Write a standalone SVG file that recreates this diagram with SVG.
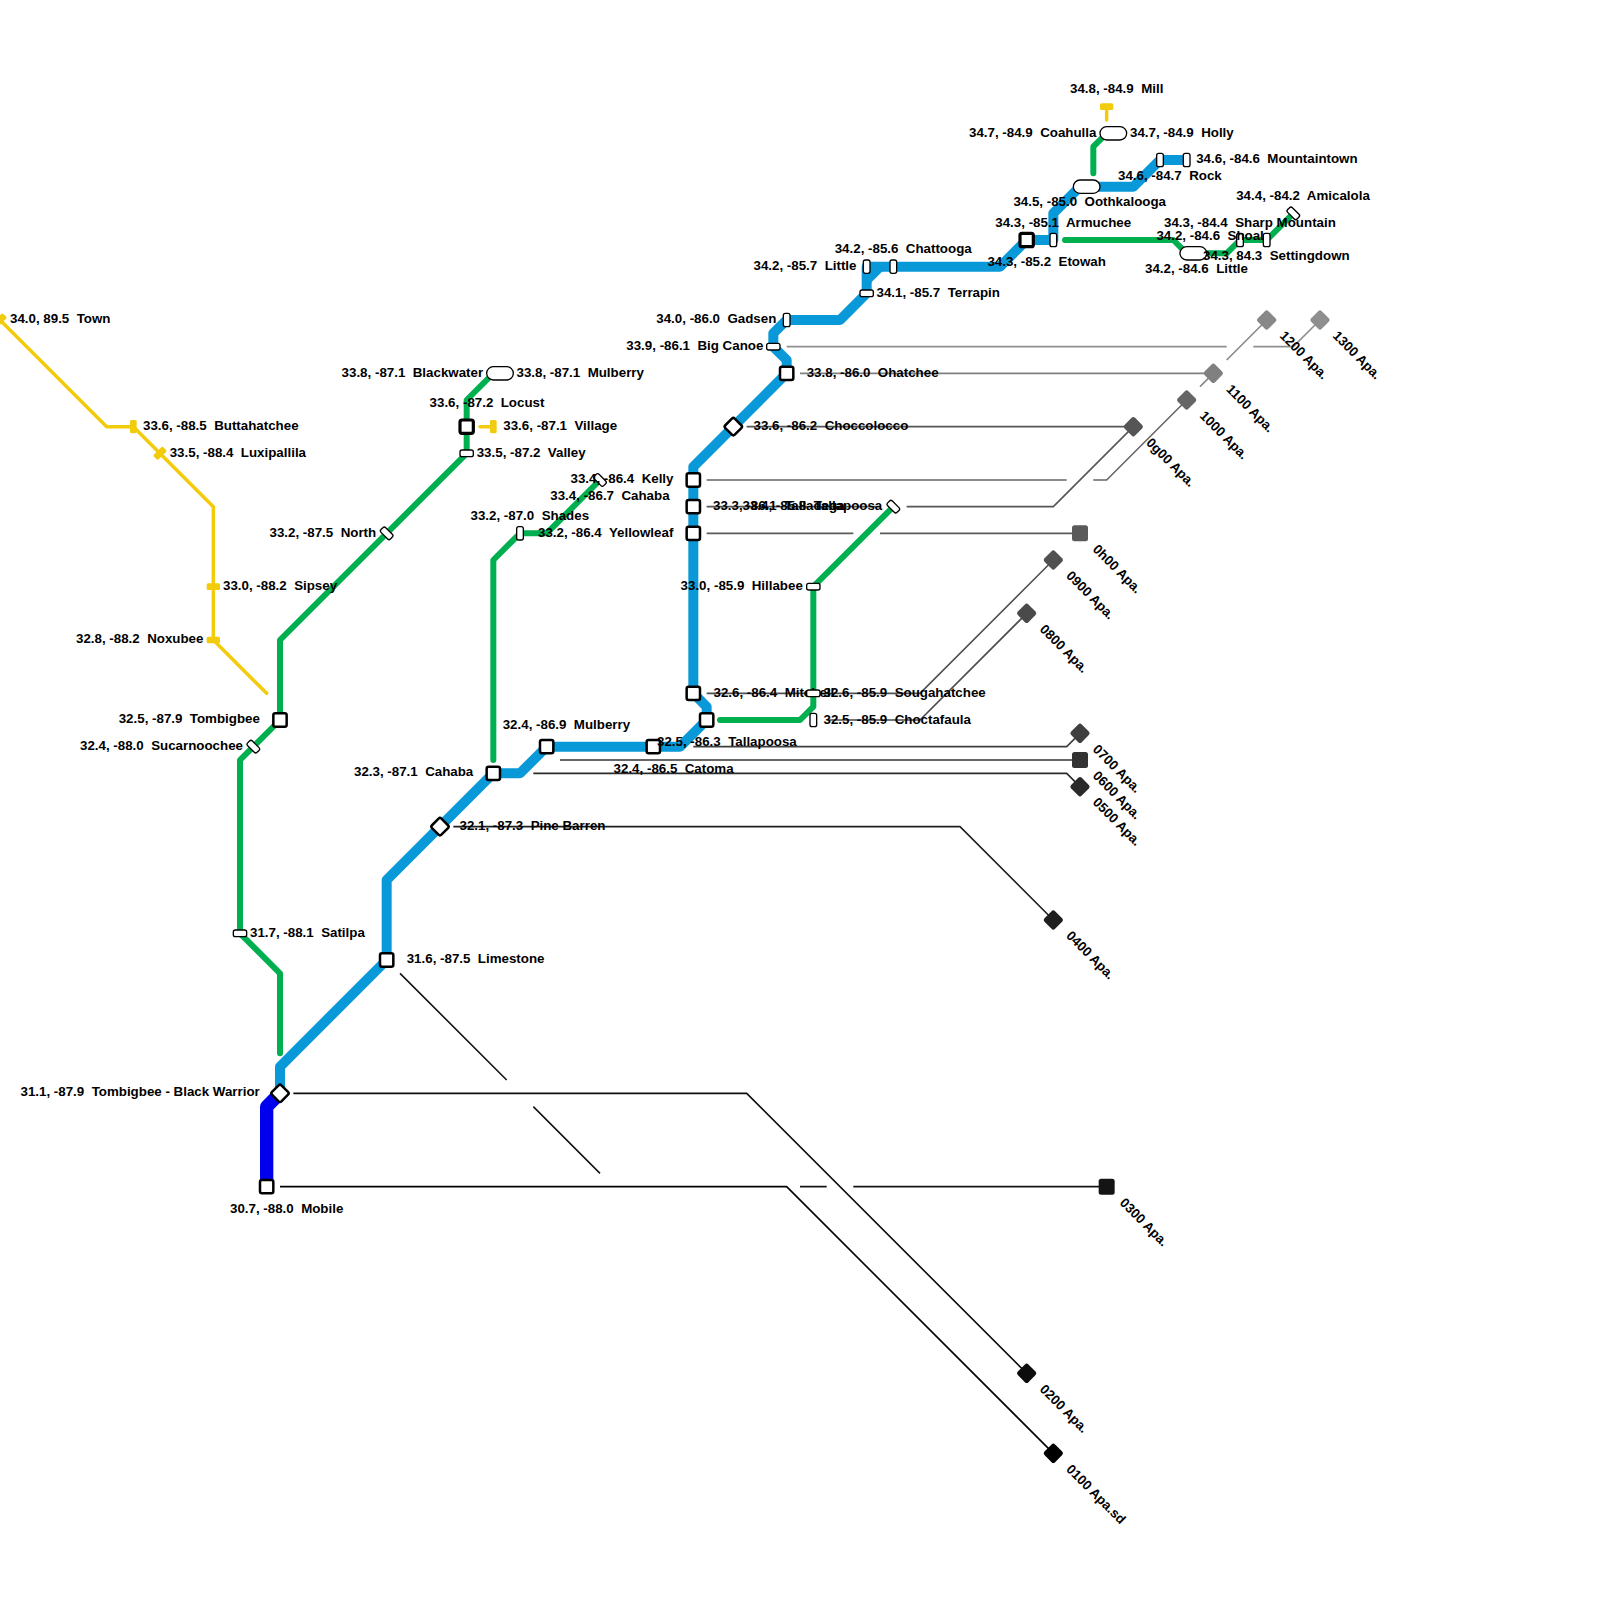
<svg xmlns="http://www.w3.org/2000/svg" width="1600" height="1600" viewBox="0 0 1600 1600">
<style>
text{font-family:"Liberation Sans",Arial,sans-serif;font-size:13.33px;font-weight:700;fill:#000;white-space:pre}
.b{fill:none;stroke:#0998d8;stroke-width:10;stroke-linejoin:round}
.g{fill:none;stroke:#00b050;stroke-width:6;stroke-linecap:round;stroke-linejoin:round}
.y{fill:none;stroke:#f2cc0c;stroke-width:3.5;stroke-linecap:round;stroke-linejoin:round}
.l{fill:none;stroke-width:1.6}
.s{fill:#fff;stroke:#000;stroke-width:2.5}
.s2{fill:#fff;stroke:#000;stroke-width:3.2}
.t{fill:#fff;stroke:#000;stroke-width:1.33}
.yb{fill:#f2cc0c}
</style>
<rect width="1600" height="1600" fill="#fff"/>
<g id="connectors">
<path class="l" stroke="#000" d="M280 1186.67H786.67L1053.33 1453.33"/>
<path class="l" stroke="#0c0c0c" d="M293.33 1093.33H746.67L1026.67 1373.33"/>
<path class="l" stroke="#141414" d="M400 973.33L506.67 1080M533.33 1106.67L600 1173.33M800 1186.67H826.67M853.33 1186.67H1106.67"/>
<path class="l" stroke="#1f1f1f" d="M453.33 826.67H960L1053.33 920"/>
<path class="l" stroke="#2a2a2a" d="M533.33 773.33H1066.67L1080 786.67"/>
<path class="l" stroke="#333" d="M560 760H1080"/>
<path class="l" stroke="#3f3f3f" d="M693.33 746.67H1066.67L1080 733.33"/>
<path class="l" stroke="#4a4a4a" d="M826.67 720H920L1026.67 613.33"/>
<path class="l" stroke="#505050" d="M706.67 693.33H920L1053.33 560"/>
<path class="l" stroke="#5a5a5a" d="M706.67 533.33H853.33M880 533.33H1080"/>
<path class="l" stroke="#555" d="M746.67 426.67H1133.33M906.67 506.67H1053.33L1133.33 426.67M706.67 506.67H880"/>
<path class="l" stroke="#666" d="M706.67 480H1066.67M1093.33 480H1106.67L1186.67 400"/>
<path class="l" stroke="#808080" d="M800 373.33H1213.33"/>
<path class="l" stroke="#888" d="M1200 386.67L1213.33 373.33M1226.67 360L1266.67 320"/>
<path class="l" stroke="#8f8f8f" d="M786.67 346.67H1226.67M1253.33 346.67H1293.33L1320 320"/>
<path class="y" d="M0 320L106.67 426.67H133.33L213.33 506.67V640L266.67 693.33"/>
<path class="y" d="M480 426.67H493.33"/>
<path class="y" d="M1106.67 120V106.67"/>
<path class="g" d="M280 1053.33V973.33L240 933.33V760L280 720V640L466.67 453.33V400L493.33 373.33"/>
<path class="g" d="M493.33 760V560L520 533.33H546.67L600 480"/>
<path class="g" d="M720 720H800L813.33 706.67V586.67L893.33 506.67"/>
<path class="g" d="M1093.33 173.33V146.67L1106.67 133.33"/>
<path class="g" d="M1065 240H1173.33L1186.67 253.33H1226.67L1240 240H1266.67L1293.33 213.33"/>
<path class="b" d="M280 1093.33V1066.67L386.67 960V880L493.33 773.33H520L546.67 746.67H680L706.67 720V706.67L693.33 693.33V466.67L786.67 373.33V360L773.33 346.67V333.33L786.67 320H840L866.67 293.33V266.67H1000L1026.67 240H1053.33V213.33L1080 186.67H1133.33L1160 160H1186.67"/>
<path class="b" d="M866.67 280L880 266.67"/>
<path fill="none" stroke="#0000ee" stroke-width="13.33" stroke-linejoin="round" d="M266.67 1186.67V1106.67L280 1093.33"/>
</g>
<defs>
<rect id="sq" class="s" x="-6.67" y="-6.67" width="13.33" height="13.33" rx="2"/>
<rect id="sq2" class="s2" x="-6.67" y="-6.67" width="13.33" height="13.33" rx="2"/>
<rect id="dm" class="s" x="-6.67" y="-6.67" width="13.33" height="13.33" rx="2" transform="rotate(45)"/>
<rect id="v" class="t" x="-3.33" y="-6.67" width="6.67" height="13.33" rx="2"/>
<rect id="h" class="t" x="-6.67" y="-3.33" width="13.33" height="6.67" rx="2"/>
<rect id="r" class="t" x="-3.33" y="-6.67" width="6.67" height="13.33" rx="2" transform="rotate(-45)"/>
<rect id="p" class="t" x="-13.33" y="-6.67" width="26.67" height="13.33" rx="6.67"/>
<rect id="ys" class="yb" x="-6.67" y="-3.33" width="13.33" height="6.67" rx="1.5"/>
<rect id="yv" class="yb" x="-3.33" y="-6.67" width="6.67" height="13.33" rx="1.5"/>
<rect id="yr" class="yb" x="-3.33" y="-6.67" width="6.67" height="13.33" rx="1.5" transform="rotate(45)"/>
<rect id="a" x="-8" y="-8" width="16" height="16" rx="2.5"/>
<rect id="ad" x="-7.5" y="-7.5" width="15" height="15" rx="2.5" transform="rotate(45)"/>
</defs>
<g id="n-mobile"><use href="#sq" x="266.67" y="1186.67"/><text x="230" y="1213">30.7, -88.0  Mobile</text></g>
<g id="n-bw"><use href="#dm" x="280" y="1093.33"/><text x="20.5" y="1096">31.1, -87.9  Tombigbee - Black Warrior</text></g>
<g id="n-limestone"><use href="#sq" x="386.67" y="960"/><text x="406.7" y="963">31.6, -87.5  Limestone</text></g>
<g id="n-pinebarren"><use href="#dm" x="440" y="826.67"/><text x="459.5" y="830">32.1, -87.3  Pine Barren</text></g>
<g id="n-cahaba"><use href="#sq" x="493.33" y="773.33"/><text x="354" y="776">32.3, -87.1  Cahaba</text></g>
<g id="n-mulberry2"><use href="#sq" x="546.67" y="746.67"/><text x="502.7" y="728.7">32.4, -86.9  Mulberry</text></g>
<g id="n-catoma"><text x="613.6" y="772.5">32.4, -86.5  Catoma</text></g>
<g id="n-tallapoosa2"><use href="#sq" x="653.33" y="746.67"/><text x="657" y="746">32.5, -86.3  Tallapoosa</text></g>
<g id="n-junction"><use href="#sq" x="706.67" y="720"/></g>
<g id="n-mitchell"><use href="#sq" x="693.33" y="693.33"/><text x="713.5" y="697">32.6, -86.4  Mitchell</text></g>
<g id="n-yellowleaf"><use href="#sq" x="693.33" y="533.33"/><text x="538" y="536.5">33.2, -86.4  Yellowleaf</text></g>
<g id="n-talladega"><use href="#sq" x="693.33" y="506.67"/><text x="713" y="510">33.3, -86.1  Talladega</text></g>
<g id="n-kelly2"><use href="#sq" x="693.33" y="480"/><text x="550.3" y="500">33.4, -86.7  Cahaba</text></g>
<g id="n-choccolocco"><use href="#dm" x="733.33" y="426.67"/><text x="753.5" y="430">33.6, -86.2  Choccolocco</text></g>
<g id="n-ohatchee"><use href="#sq" x="786.67" y="373.33"/><text x="806.7" y="376.7">33.8, -86.0  Ohatchee</text></g>
<g id="n-bigcanoe"><use href="#h" x="773.33" y="346.67"/><text x="626.3" y="350">33.9, -86.1  Big Canoe</text></g>
<g id="n-gadsen"><use href="#v" x="786.67" y="320"/><text x="656.3" y="323">34.0, -86.0  Gadsen</text></g>
<g id="n-terrapin"><use href="#h" x="866.67" y="293.33"/><text x="876.5" y="296.5">34.1, -85.7  Terrapin</text></g>
<g id="n-little"><use href="#v" x="866.67" y="266.67"/><text x="753.5" y="270">34.2, -85.7  Little</text></g>
<g id="n-chattooga"><use href="#v" x="893.33" y="266.67"/><text x="834.7" y="253">34.2, -85.6  Chattooga</text></g>
<g id="n-armuchee"><use href="#sq2" x="1026.67" y="240"/><text x="995.3" y="226.5">34.3, -85.1  Armuchee</text></g>
<g id="n-etowah"><use href="#v" x="1053.33" y="240"/><text x="987.4" y="266">34.3, -85.2  Etowah</text></g>
<g id="n-oothkalooga"><use href="#p" x="1086.67" y="186.67"/><text x="1013.4" y="206">34.5, -85.0  Oothkalooga</text></g>
<g id="n-rock"><use href="#v" x="1160" y="160"/><text x="1118" y="180">34.6, -84.7  Rock</text></g>
<g id="n-mountaintown"><use href="#v" x="1186.67" y="160"/><text x="1196.2" y="163">34.6, -84.6  Mountaintown</text></g>
<g id="n-coahulla"><use href="#p" x="1113.33" y="133.33"/><text x="969" y="136.5">34.7, -84.9  Coahulla</text><text x="1130" y="136.5">34.7, -84.9  Holly</text></g>
<g id="n-mill"><use href="#ys" x="1106.67" y="106.67"/><text x="1070" y="93">34.8, -84.9  Mill</text></g>
<g id="n-little2"><use href="#p" x="1193.33" y="253.33"/><text x="1145" y="273">34.2, -84.6  Little</text></g>
<g id="n-shoal"><use href="#v" x="1240" y="240"/><text x="1156.4" y="240">34.2, -84.6  Shoal</text><text x="1164" y="226.5">34.3, -84.4  Sharp Mountain</text></g>
<g id="n-settingdown"><use href="#v" x="1266.67" y="240"/><text x="1203" y="260">34.3, 84.3  Settingdown</text></g>
<g id="n-amicalola"><use href="#r" x="1293.33" y="213.33"/><text x="1236.2" y="200">34.4, -84.2  Amicalola</text></g>
<g id="n-blackwater"><use href="#p" x="500" y="373.33"/><text x="341.6" y="376.5">33.8, -87.1  Blackwater</text><text x="516.5" y="376.5">33.8, -87.1  Mulberry</text></g>
<g id="n-locust"><use href="#sq2" x="466.67" y="426.67"/><text x="429.6" y="406.5">33.6, -87.2  Locust</text></g>
<g id="n-village"><use href="#yv" x="493.33" y="426.67"/><text x="503.3" y="430">33.6, -87.1  Village</text></g>
<g id="n-valley"><use href="#h" x="466.67" y="453.33"/><text x="476.7" y="456.5">33.5, -87.2  Valley</text></g>
<g id="n-north"><use href="#r" x="386.67" y="533.33"/><text x="269.5" y="536.5">33.2, -87.5  North</text></g>
<g id="n-tombigbee"><use href="#sq" x="280" y="720"/><text x="118.7" y="723">32.5, -87.9  Tombigbee</text></g>
<g id="n-sucarnoochee"><use href="#r" x="253.33" y="746.67"/><text x="80" y="750">32.4, -88.0  Sucarnoochee</text></g>
<g id="n-satilpa"><use href="#h" x="240" y="933.33"/><text x="250" y="936.5">31.7, -88.1  Satilpa</text></g>
<g id="n-shades"><use href="#v" x="520" y="533.33"/><text x="470.5" y="520">33.2, -87.0  Shades</text></g>
<g id="n-kelly"><use href="#r" x="600" y="480"/><text x="570.5" y="483">33.4, -86.4  Kelly</text></g>
<g id="n-tallapoosa"><use href="#r" x="893.33" y="506.67"/><text x="742.5" y="510">33.4, -85.8  Tallapoosa</text></g>
<g id="n-hillabee"><use href="#h" x="813.33" y="586.67"/><text x="680.6" y="590">33.0, -85.9  Hillabee</text></g>
<g id="n-sougahatchee"><use href="#h" x="813.33" y="693.33"/><text x="823.5" y="697">32.6, -85.9  Sougahatchee</text></g>
<g id="n-choctafaula"><use href="#v" x="813.33" y="720"/><text x="823.5" y="723.5">32.5, -85.9  Choctafaula</text></g>
<g id="n-town"><use href="#yr" x="0" y="320"/><text x="10" y="323">34.0, 89.5  Town</text></g>
<g id="n-buttahatchee"><use href="#yv" x="133.33" y="426.67"/><text x="143" y="430">33.6, -88.5  Buttahatchee</text></g>
<g id="n-luxipallila"><use href="#yr" x="160" y="453.33"/><text x="169.7" y="456.5">33.5, -88.4  Luxipallila</text></g>
<g id="n-sipsey"><use href="#ys" x="213.33" y="586.67"/><text x="223" y="590">33.0, -88.2  Sipsey</text></g>
<g id="n-noxubee"><use href="#ys" x="213.33" y="640"/><text x="76" y="643">32.8, -88.2  Noxubee</text></g>
<g id="a0100"><use href="#ad" x="1053.33" y="1453.33" fill="#000"/><text transform="translate(1065.5 1470) rotate(45)">0100 Apa.sd</text></g>
<g id="a0200"><use href="#ad" x="1026.67" y="1373.33" fill="#0c0c0c"/><text transform="translate(1039 1390) rotate(45)">0200 Apa.</text></g>
<g id="a0300"><use href="#a" x="1106.67" y="1186.67" fill="#141414"/><text transform="translate(1119 1203.5) rotate(45)">0300 Apa.</text></g>
<g id="a0400"><use href="#ad" x="1053.33" y="920" fill="#1f1f1f"/><text transform="translate(1065.5 936.5) rotate(45)">0400 Apa.</text></g>
<g id="a0500"><use href="#ad" x="1080" y="786.67" fill="#2a2a2a"/><text transform="translate(1092 803) rotate(45)">0500 Apa.</text></g>
<g id="a0600"><use href="#a" x="1080" y="760" fill="#333"/><text transform="translate(1092 776.5) rotate(45)">0600 Apa.</text></g>
<g id="a0700"><use href="#ad" x="1080" y="733.33" fill="#3f3f3f"/><text transform="translate(1092 750) rotate(45)">0700 Apa.</text></g>
<g id="a0800"><use href="#ad" x="1026.67" y="613.33" fill="#4a4a4a"/><text transform="translate(1039 630) rotate(45)">0800 Apa.</text></g>
<g id="a0900"><use href="#ad" x="1053.33" y="560" fill="#505050"/><text transform="translate(1065.5 576.5) rotate(45)">0900 Apa.</text></g>
<g id="a0h00"><use href="#a" x="1080" y="533.33" fill="#5a5a5a"/><text transform="translate(1092 550) rotate(45)">0h00 Apa.</text></g>
<g id="a0g00"><use href="#ad" x="1133.33" y="426.67" fill="#555"/><text transform="translate(1145.5 443.5) rotate(45)">0g00 Apa.</text></g>
<g id="a1000"><use href="#ad" x="1186.67" y="400" fill="#666"/><text transform="translate(1199 416.5) rotate(45)">1000 Apa.</text></g>
<g id="a1100"><use href="#ad" x="1213.33" y="373.33" fill="#808080"/><text transform="translate(1225.5 390) rotate(45)">1100 Apa.</text></g>
<g id="a1200"><use href="#ad" x="1266.67" y="320" fill="#888"/><text transform="translate(1279 336.5) rotate(45)">1200 Apa.</text></g>
<g id="a1300"><use href="#ad" x="1320" y="320" fill="#8f8f8f"/><text transform="translate(1332 336.5) rotate(45)">1300 Apa.</text></g>
</svg>
